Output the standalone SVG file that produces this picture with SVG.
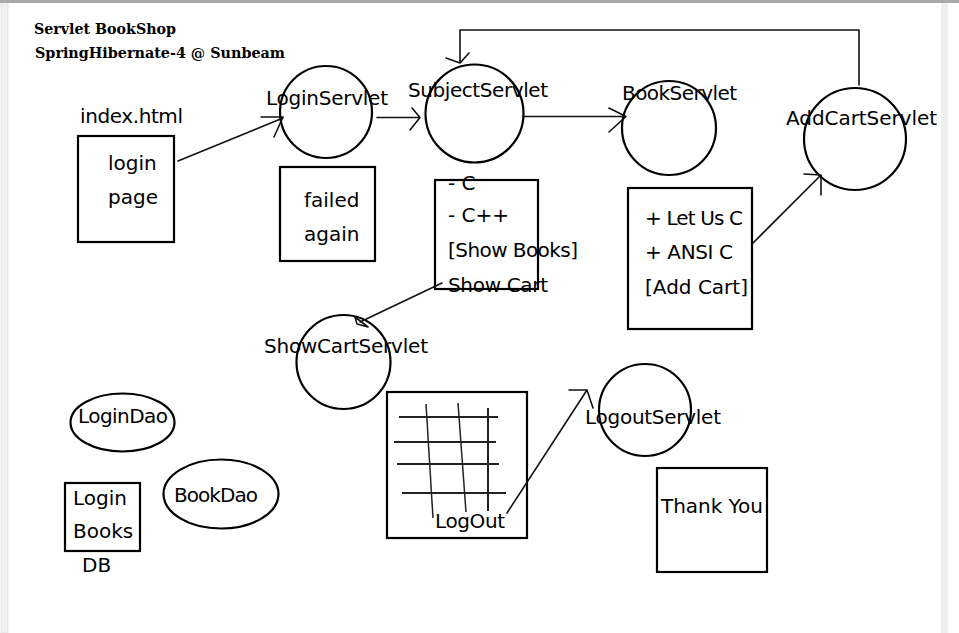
<svg xmlns="http://www.w3.org/2000/svg" width="959" height="633" viewBox="0 0 959 633">
<style>
.t{font-family:"DejaVu Sans","Noto Sans",sans-serif;font-size:20px;fill:#000}
.h{font-family:"DejaVu Serif","Liberation Serif",serif;font-size:15px;font-weight:bold;fill:#000}
.s{fill:none;stroke:#000;stroke-width:2.2}
.c{fill:none;stroke:#111;stroke-width:1.6;stroke-linecap:round;stroke-linejoin:round}
.g{fill:none;stroke:#222;stroke-width:2}
</style>
<rect x="0" y="0" width="959" height="633" fill="#fff"/>
<rect x="1" y="0" width="7" height="633" fill="#f0f0f0" stroke="#e2e2e2" stroke-width="0.8"/>
<rect x="941" y="0" width="7" height="633" fill="#efefef"/>
<rect x="0" y="0" width="959" height="3" fill="#a9a9a9"/>

<g id="title">
<text class="h" x="34" y="34" textLength="142" lengthAdjust="spacingAndGlyphs">Servlet  BookShop</text>
<text class="h" x="35" y="58" textLength="250" lengthAdjust="spacingAndGlyphs">SpringHibernate-4  @  Sunbeam</text>
</g>

<g id="index">
<text class="t" x="80" y="123" textLength="103">index.html</text>
<rect class="s" x="78" y="136" width="96" height="106"/>
<text class="t" x="108" y="170">login</text>
<text class="t" x="108" y="204">page</text>
</g>

<g id="loginservlet">
<circle class="s" cx="326" cy="112" r="46"/>
<text class="t" x="266" y="105" textLength="122">LoginServlet</text>
</g>

<g id="failed">
<rect class="s" x="280" y="167" width="95" height="94"/>
<text class="t" x="304" y="207">failed</text>
<text class="t" x="304" y="241">again</text>
</g>

<g id="subjectservlet">
<circle class="s" cx="474.5" cy="113.5" r="49"/>
<text class="t" x="408" y="97" textLength="140">SubjectServlet</text>
</g>

<g id="subjects">
<rect class="s" x="435" y="180" width="103" height="109"/>
<text class="t" x="448" y="190">- C</text>
<text class="t" x="448" y="222">- C++</text>
<text class="t" x="448" y="257" textLength="130">[Show Books]</text>
<text class="t" x="448" y="292" textLength="100">Show Cart</text>
</g>

<g id="bookservlet">
<circle class="s" cx="669" cy="128" r="47"/>
<text class="t" x="622" y="100" textLength="115">BookServlet</text>
</g>

<g id="books">
<rect class="s" x="628" y="188" width="124" height="141"/>
<text class="t" x="645" y="225" textLength="98">+ Let Us C</text>
<text class="t" x="645" y="259" textLength="88">+ ANSI C</text>
<text class="t" x="645" y="294" textLength="103">[Add Cart]</text>
</g>

<g id="addcartservlet">
<circle class="s" cx="855" cy="139" r="51"/>
<text class="t" x="786" y="125" textLength="151">AddCartServlet</text>
</g>

<g id="showcartservlet">
<circle class="s" cx="343.5" cy="362" r="47"/>
<text class="t" x="264" y="353" textLength="164">ShowCartServlet</text>
</g>

<g id="cart">
<rect class="s" x="387" y="392" width="140" height="146"/>
<g class="g">
<line x1="399" y1="417" x2="498" y2="417"/>
<line x1="394" y1="442" x2="496" y2="442"/>
<line x1="397" y1="464" x2="499" y2="464"/>
<line x1="402" y1="493" x2="506" y2="493"/>
<line x1="426" y1="404" x2="433" y2="518" stroke-width="1.5"/>
<line x1="458" y1="403" x2="466" y2="512" stroke-width="1.5"/>
<line x1="488" y1="408" x2="488" y2="511"/>
</g>
<text class="t" x="435" y="528" textLength="70">LogOut</text>
</g>

<g id="logoutservlet">
<circle class="s" cx="645" cy="410" r="46"/>
<text class="t" x="585" y="424" textLength="136">LogoutServlet</text>
</g>

<g id="thankyou">
<rect class="s" x="657" y="468" width="110" height="104"/>
<text class="t" x="661" y="513" textLength="102">Thank You</text>
</g>

<g id="logindao">
<ellipse class="s" cx="122.5" cy="422.5" rx="52" ry="29"/>
<text class="t" x="78" y="423" textLength="90">LoginDao</text>
</g>

<g id="bookdao">
<ellipse class="s" cx="221" cy="494" rx="57.5" ry="34.5"/>
<text class="t" x="174" y="502" textLength="84">BookDao</text>
</g>

<g id="db">
<rect class="s" x="65" y="483" width="75" height="68"/>
<text class="t" x="73" y="505">Login</text>
<text class="t" x="73" y="538">Books</text>
<text class="t" x="82" y="572">DB</text>
</g>

<g id="connectors">
<path class="c" d="M178,161 L283,118 M261,117 L283,117 L274,137"/>
<path class="c" stroke-width="2" d="M377,117.5 L420,117.5 M412,108 L420,117.5 L410,130"/>
<path class="c" stroke-width="2" d="M523,116.5 L626,116.5 M609,108 L626,116.5 L609,132"/>
<path class="c" stroke="#333" stroke-width="2.4" d="M859,85 L859,30 L460,30 L460,63 M446,58 L460,63 L469,53"/>
<path class="c" d="M752,244 L821,175 M804,174 L821,175 L821,195"/>
<path class="c" d="M442,283 L360,322 M355,317 L357,324 L368,327 Z"/>
<path class="c" d="M507,513 L587,390 M569,390 L587,390 L593,408"/>
</g>
</svg>
